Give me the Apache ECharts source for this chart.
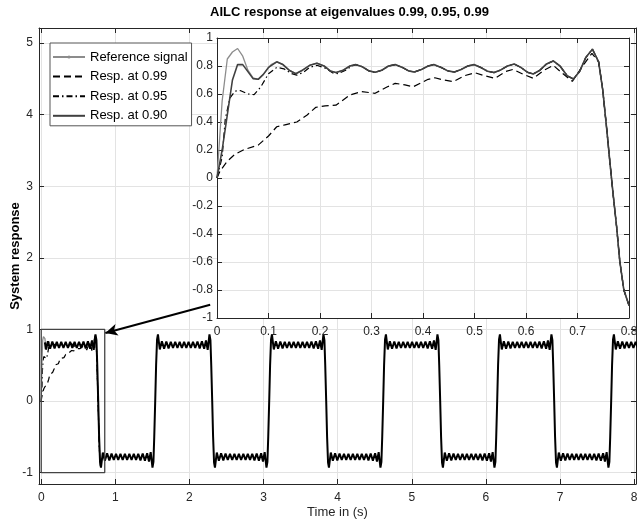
<!DOCTYPE html>
<html>
<head>
<meta charset="utf-8">
<script src="https://cdn.jsdelivr.net/npm/echarts@6.0.0/dist/echarts.min.js"></script>
<style>
  html, body { margin: 0; padding: 0; background: #fff; }
  #chart { width: 637px; height: 522px; }
</style>
</head>
<body>
<div id="chart"></div>
<script>
const refSignal = [
    [0, 0], [0.01, 0.55], [0.02, 0.85], [0.03, 0.9], [0.04, 0.925], [0.05, 0.87],
    [0.06, 0.77], [0.07, 0.715], [0.08, 0.705], [0.09, 0.74], [0.105, 0.81], [0.116, 0.83],
    [0.128, 0.81], [0.14, 0.77], [0.153, 0.745], [0.166, 0.77], [0.18, 0.805], [0.194, 0.82],
    [0.208, 0.8], [0.22, 0.765], [0.231, 0.753], [0.245, 0.77], [0.258, 0.8], [0.269, 0.81],
    [0.282, 0.795], [0.295, 0.765], [0.307, 0.755], [0.32, 0.77], [0.333, 0.8], [0.346, 0.81],
    [0.36, 0.79], [0.372, 0.765], [0.383, 0.757], [0.397, 0.775], [0.41, 0.8], [0.421, 0.81],
    [0.435, 0.79], [0.448, 0.765], [0.461, 0.757], [0.474, 0.775], [0.487, 0.8], [0.499, 0.81],
    [0.512, 0.79], [0.525, 0.763], [0.538, 0.753], [0.551, 0.772], [0.564, 0.8], [0.577, 0.814],
    [0.59, 0.79], [0.603, 0.755], [0.614, 0.743], [0.627, 0.77], [0.64, 0.815], [0.653, 0.836],
    [0.666, 0.8], [0.68, 0.73], [0.692, 0.707], [0.704, 0.76], [0.716, 0.86], [0.729, 0.92],
    [0.741, 0.83], [0.749, 0.63], [0.757, 0.34], [0.763, 0.11], [0.769, -0.11], [0.776, -0.35],
    [0.782, -0.59], [0.79, -0.8], [0.8, -0.91]
];
const resp099Head = [
    [0, 0], [0.006, 0.05], [0.02, 0.12], [0.035, 0.17], [0.054, 0.205], [0.08, 0.235],
    [0.1, 0.3], [0.116, 0.366], [0.132, 0.38], [0.155, 0.4], [0.175, 0.45], [0.192, 0.505],
    [0.21, 0.515], [0.231, 0.52], [0.258, 0.593], [0.281, 0.617], [0.307, 0.605], [0.33, 0.65],
    [0.346, 0.676], [0.365, 0.665], [0.381, 0.652], [0.41, 0.705], [0.423, 0.716], [0.44, 0.7],
    [0.459, 0.688], [0.48, 0.73], [0.501, 0.752], [0.52, 0.73], [0.54, 0.712], [0.56, 0.76],
    [0.575, 0.776], [0.595, 0.74], [0.614, 0.712], [0.635, 0.77], [0.653, 0.805], [0.67, 0.75],
    [0.69, 0.69], [0.71, 0.8], [0.728, 0.89]
];
const resp095Head = [
    [0, 0], [0.01, 0.15], [0.016, 0.42], [0.025, 0.57], [0.035, 0.62], [0.045, 0.625],
    [0.06, 0.6], [0.072, 0.595], [0.085, 0.65], [0.1, 0.745], [0.116, 0.79], [0.13, 0.78],
    [0.145, 0.745], [0.155, 0.735], [0.168, 0.755], [0.18, 0.79], [0.194, 0.805], [0.21, 0.785],
    [0.225, 0.75], [0.235, 0.745], [0.25, 0.77], [0.262, 0.8]
];
const resp090Head = [
    [0, 0], [0.01, 0.2], [0.02, 0.45], [0.03, 0.7], [0.04, 0.81], [0.05, 0.81],
    [0.06, 0.76], [0.07, 0.71], [0.08, 0.705], [0.09, 0.74], [0.1, 0.79]
];
// after these times the responses sit on the reference
const resp099 = resp099Head.concat(refSignal.filter(p => p[0] >= 0.741));
const resp095 = resp095Head.concat(refSignal.filter(p => p[0] >= 0.269));
const resp090 = resp090Head.concat(refSignal.filter(p => p[0] >= 0.116));

// main plot: one half-cycle read off the long run (time from its zero crossing),
// it repeats with alternating sign
const halfPeriod = 0.769;
const halfCycleCount = 11;
const mainHalfCycle = [
    [0, 0], [0.012, 0.5], [0.025, 0.86], [0.037, 0.93], [0.05, 0.82], [0.062, 0.72],
    [0.09, 0.835], [0.12, 0.73], [0.15, 0.83], [0.18, 0.735], [0.21, 0.825], [0.24, 0.74],
    [0.27, 0.825], [0.3, 0.74], [0.33, 0.825], [0.36, 0.74], [0.39, 0.825], [0.42, 0.74],
    [0.45, 0.825], [0.48, 0.74], [0.51, 0.825], [0.54, 0.74], [0.57, 0.83], [0.6, 0.735],
    [0.63, 0.835], [0.66, 0.73], [0.685, 0.845], [0.708, 0.715], [0.732, 0.93], [0.745, 0.85],
    [0.756, 0.5]
];
const mainSignal = [];
for (let k = 0; k < halfCycleCount; k++) {
    let sign = k % 2 === 0 ? 1 : -1;
    mainHalfCycle.forEach(p => mainSignal.push([k * halfPeriod + p[0], sign * p[1]]));
}

const zoomBox = [[0, -1], [0.857, -1], [0.857, 1], [0, 1], [0, -1]];
const arrowFrom = [2.28, 1.345];
const arrowTo = [0.866, 0.95];

const names = ['Reference signal', 'Resp. at 0.99', 'Resp. at 0.95', 'Resp. at 0.90'];

const font = 'Liberation Sans, Arial, sans-serif';
const axisColor = '#262626';
const gridColor = '#e3e3e3';

function boxAxis(grid, pos, min, max, extra) {
    return Object.assign({
        type: 'value',
        gridIndex: grid,
        position: pos,
        min: min,
        max: max,
        axisLine: {show: true, onZero: false, lineStyle: {color: axisColor, width: 1}},
        axisTick: {show: true, inside: true, length: 5, lineStyle: {color: axisColor}},
        axisLabel: {show: false},
        splitLine: {show: false}
    }, extra);
}

let dom = document.getElementById('chart');
let myChart = echarts.init(dom, null, {renderer: 'canvas'});

const option = {
    animation: false,
    backgroundColor: '#fff',
    title: {
        text: 'AILC response at eigenvalues 0.99, 0.95, 0.99',
        left: 210,
        top: 6,
        padding: 0,
        textStyle: {fontFamily: font, fontSize: 13, fontWeight: 'bold', color: '#000'}
    },
    legend: {
        orient: 'vertical',
        left: 50,
        top: 43,
        data: [
            {name: names[0]},
            {name: names[1], itemStyle: {opacity: 0}},
            {name: names[2], itemStyle: {opacity: 0}},
            {name: names[3], itemStyle: {opacity: 0}}
        ],
        itemWidth: 32,
        itemHeight: 4,
        itemGap: 5.6,
        padding: [7, 4, 3, 2],
        backgroundColor: '#fff',
        borderColor: '#555',
        borderWidth: 1,
        borderRadius: 0,
        textStyle: {fontFamily: font, fontSize: 13, color: '#000', lineHeight: 14}
    },
    grid: [
        {left: 39, top: 28, right: 1, bottom: 38, outerBoundsMode: 'none'},
        {left: 217, top: 38, right: 8, bottom: 204, show: true, backgroundColor: '#fff',
            borderWidth: 0, z: 3, outerBoundsMode: 'none'}
    ],
    xAxis: [
        boxAxis(0, 'bottom', -0.03, 8.025, {
            splitNumber: 8,
            name: 'Time in (s)',
            nameLocation: 'middle',
            nameGap: 22,
            nameMoveOverlap: false,
            nameTextStyle: {fontFamily: font, fontSize: 13, color: axisColor},
            axisLabel: {show: true, showMinLabel: false, showMaxLabel: false, margin: 8,
                fontFamily: font, fontSize: 12, color: axisColor},
            splitLine: {show: true, lineStyle: {color: gridColor}}
        }),
        boxAxis(0, 'top', -0.03, 8.025, {splitNumber: 8}),
        boxAxis(1, 'bottom', 0, 0.8, {
            interval: 0.1, z: 4,
            axisLabel: {show: true, margin: 8, fontFamily: font, fontSize: 12, color: axisColor},
            splitLine: {show: true, lineStyle: {color: gridColor}}
        }),
        boxAxis(1, 'top', 0, 0.8, {interval: 0.1, z: 4})
    ],
    yAxis: [
        boxAxis(0, 'left', -1.16, 5.21, {
            splitNumber: 6,
            name: 'System response',
            nameLocation: 'middle',
            nameGap: 17,
            nameMoveOverlap: false,
            nameTextStyle: {fontFamily: font, fontSize: 13, fontWeight: 'bold', color: '#000'},
            axisLabel: {show: true, showMinLabel: false, showMaxLabel: false, margin: 6,
                fontFamily: font, fontSize: 12, color: axisColor},
            splitLine: {show: true, lineStyle: {color: gridColor}}
        }),
        boxAxis(0, 'right', -1.16, 5.21, {splitNumber: 6}),
        boxAxis(1, 'left', -1, 1, {
            interval: 0.2, z: 4,
            axisLabel: {show: true, margin: 4, fontFamily: font, fontSize: 12, color: axisColor},
            splitLine: {show: true, lineStyle: {color: gridColor}}
        }),
        boxAxis(1, 'right', -1, 1, {interval: 0.2, z: 4})
    ],
    series: [
        // main axes
        {
            name: 'main 0.99', type: 'line', xAxisIndex: 0, yAxisIndex: 0,
            data: resp099, showSymbol: false, symbol: 'none',
            lineStyle: {color: '#000', width: 1.2, type: [6, 4]}
        },
        {
            name: 'main 0.95', type: 'line', xAxisIndex: 0, yAxisIndex: 0,
            data: resp095, showSymbol: false, symbol: 'none',
            lineStyle: {color: '#000', width: 1.2, type: [6, 3, 1.5, 3]}
        },
        {
            name: 'main ref', type: 'line', xAxisIndex: 0, yAxisIndex: 0,
            data: refSignal.filter(p => p[0] <= 0.12), showSymbol: false, symbol: 'none',
            lineStyle: {color: '#8c8c8c', width: 1.3}
        },
        {
            name: 'main signal', type: 'line', xAxisIndex: 0, yAxisIndex: 0,
            data: mainSignal.filter(p => p[0] >= 0.05), showSymbol: false, symbol: 'none',
            lineStyle: {color: '#000', width: 2}
        },
        {
            name: 'zoom box', type: 'line', xAxisIndex: 0, yAxisIndex: 0,
            data: zoomBox, showSymbol: false, symbol: 'none',
            lineStyle: {color: '#444', width: 1.3},
            markLine: {
                silent: true,
                symbol: ['none', 'arrow'],
                symbolSize: [9, 12],
                label: {show: false},
                lineStyle: {color: '#000', width: 2, type: 'solid'},
                data: [[{coord: arrowFrom}, {coord: arrowTo}]]
            }
        },
        // inset
        {
            name: names[0], type: 'line', xAxisIndex: 2, yAxisIndex: 2, z: 5,
            data: refSignal, showSymbol: false, symbol: 'circle',
            itemStyle: {color: '#8c8c8c'},
            lineStyle: {color: '#8c8c8c', width: 1.3}
        },
        {
            name: names[1], type: 'line', xAxisIndex: 2, yAxisIndex: 2, z: 5,
            data: resp099, showSymbol: false, symbol: 'none',
            itemStyle: {color: '#000'},
            lineStyle: {color: '#000', width: 1.2, type: [7, 4]}
        },
        {
            name: names[2], type: 'line', xAxisIndex: 2, yAxisIndex: 2, z: 5,
            data: resp095, showSymbol: false, symbol: 'none',
            itemStyle: {color: '#000'},
            lineStyle: {color: '#000', width: 1.2, type: [6, 3, 1.5, 3]}
        },
        {
            name: names[3], type: 'line', xAxisIndex: 2, yAxisIndex: 2, z: 5,
            data: resp090, showSymbol: false, symbol: 'none',
            itemStyle: {color: '#404040'},
            lineStyle: {color: '#404040', width: 1.6}
        }
    ]
};
myChart.setOption(option, true);
</script>
</body>
</html>
